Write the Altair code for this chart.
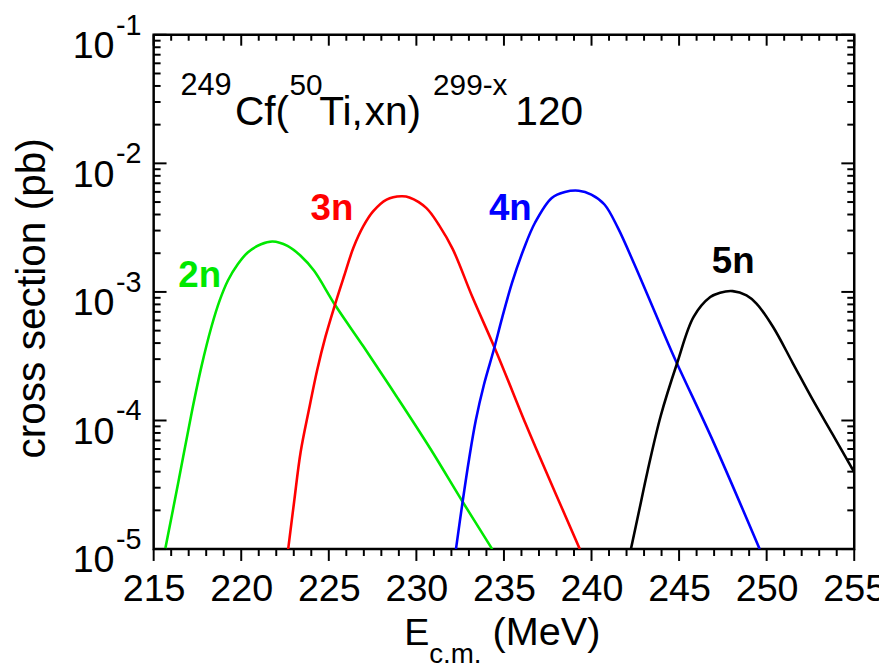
import altair as alt
import pandas as pd

FONT = "Liberation Sans"

# ---- data: energy (MeV) and log10(cross section / pb)
E_2n = [215.66, 216.41, 217.17, 217.73, 218.30, 218.77, 219.24, 219.81, 220.37, 221.13, 221.79,
        222.64, 223.39, 224.15, 225.37, 226.98, 228.86, 230.80, 232.64, 234.33]
L_2n = [-5.0, -4.478, -3.939, -3.579, -3.271, -3.066, -2.911, -2.783, -2.693, -2.629, -2.608,
        -2.642, -2.719, -2.834, -3.104, -3.425, -3.811, -4.22, -4.632, -5.0]

E_3n = [222.68, 223.02, 223.39, 223.87, 224.34, 224.81, 225.37, 225.85, 226.41, 226.98, 227.54,
        228.30, 229.14, 229.60, 230.56, 231.31, 232.07, 233.20, 234.52, 236.22, 236.78, 239.33]
L_3n = [-5.0, -4.632, -4.247, -3.913, -3.605, -3.348, -3.091, -2.886, -2.655, -2.487, -2.372,
        -2.282, -2.256, -2.265, -2.346, -2.484, -2.665, -3.04, -3.451, -4.02, -4.20, -5.0]

E_4n = [232.26, 232.64, 233.01, 233.39, 233.86, 234.42, 234.90, 235.46, 236.12, 236.78, 237.73,
        238.48, 239.27, 239.99, 240.74, 241.50, 242.44, 243.57, 244.70, 246.97, 249.60]
L_4n = [-5.0, -4.632, -4.299, -4.00, -3.72, -3.45, -3.20, -2.93, -2.67, -2.46, -2.269,
        -2.223, -2.213, -2.243, -2.32, -2.50, -2.783, -3.143, -3.502, -4.17, -5.0]

E_5n = [242.25, 242.72, 243.19, 243.95, 244.89, 245.83, 246.78, 247.34, 248.06, 248.85, 249.42,
        250.36, 251.49, 252.62, 253.76, 254.89, 255.0]
L_5n = [-5.0, -4.70, -4.40, -3.965, -3.553, -3.194, -3.04, -3.006, -2.994, -3.027, -3.091,
        -3.271, -3.553, -3.836, -4.106, -4.376, -4.40]

channels = ["2n", "3n", "4n", "5n"]
colors = ["#00e800", "#ff0000", "#0000ff", "#000000"]

# curve labels (position of label start, log10 sigma of baseline)
label_E = [216.41, 223.96, 234.14, 246.87]
label_L = [-2.965, -2.444, -2.444, -2.855]

x_major = [215, 220, 225, 230, 235, 240, 245, 250, 255]
x_minor = [v for v in range(216, 255) if v % 5 != 0]
y_exp = [-1, -2, -3, -4, -5]
y_minor = [m * 10.0 ** k for k in range(-5, -1) for m in range(2, 10)]

# ---- tables
rows = []
for ch, E, L in zip(channels, [E_2n, E_3n, E_4n, E_5n], [L_2n, L_3n, L_4n, L_5n]):
    for e, l in zip(E, L):
        rows.append({"E": e, "sigma": 10.0 ** l, "ch": ch})
curves = pd.DataFrame(rows)
labels = pd.DataFrame({"E": label_E, "sigma": [10.0 ** v for v in label_L], "ch": channels})
ymaj = pd.DataFrame({"sigma": [10.0 ** k for k in y_exp], "sup": [str(k) for k in y_exp]})
ymin = pd.DataFrame({"sigma": y_minor})
xmaj = pd.DataFrame({"E": x_major})
xmin = pd.DataFrame({"E": x_minor})

W, H = 707, 519

xs = alt.Scale(domain=[215, 255], nice=False, zero=False)
ys = alt.Scale(type="log", domain=[1e-5, 1e-1], nice=False)
cs = alt.Scale(domain=channels, range=colors)

xaxis = alt.Axis(values=x_major, ticks=False, domain=False, grid=False, title=None,
                 labelFontSize=38, labelFont=FONT, labelColor="black", labelPadding=22,
                 labelFlush=False, labelOverlap=False, labelBound=False)
yaxis = alt.Axis(values=[10.0 ** k for k in y_exp], labelExpr="'10'", ticks=False, domain=False,
                 grid=False, title=None, labelFontSize=38, labelFont=FONT, labelColor="black",
                 labelPadding=40, labelBaseline="alphabetic", labelOffset=23,
                 labelFlush=False, labelOverlap=False, labelBound=False)

X = alt.X("E:Q", scale=xs, axis=xaxis)
Y = alt.Y("sigma:Q", scale=ys, axis=yaxis)

lines = alt.Chart(curves).mark_line(strokeWidth=2.6, interpolate="catmull-rom", clip=True).encode(
    x=X, y=Y, color=alt.Color("ch:N", scale=cs, legend=None))

curve_labels = alt.Chart(labels).mark_text(
    align="left", baseline="alphabetic", fontSize=37, font=FONT, fontWeight="bold").encode(
    x=X, y=Y, text="ch:N", color=alt.Color("ch:N", scale=cs, legend=None))

def xtick(df, y1, y2):
    return alt.Chart(df).mark_rule(color="black", strokeWidth=2).encode(
        x=X, y=alt.value(y1), y2=alt.value(y2))

def ytick(df, x1, x2):
    return alt.Chart(df).mark_rule(color="black", strokeWidth=2).encode(
        y=Y, x=alt.value(x1), x2=alt.value(x2))

ticks = [
    xtick(xmaj, H, H + 12), xtick(xmin, H, H + 7),
    xtick(xmaj, 0, 11), xtick(xmin, 0, 6),
    ytick(ymaj, 0, 13), ytick(ymin, 0, 7),
    ytick(ymaj, W, W - 13), ytick(ymin, W, W - 7),
]

sups = alt.Chart(ymaj).mark_text(align="left", baseline="alphabetic", fontSize=29,
                                 font=FONT, color="black").encode(
    y=Y, x=alt.value(-38), text="sup:N")

one = pd.DataFrame({"a": [0]})

def txt(s, x, y, size, angle=0, align="left"):
    kw = dict(align=align, baseline="alphabetic", fontSize=size, font=FONT, color="black")
    if angle:
        kw["angle"] = angle
    return alt.Chart(one).mark_text(**kw).encode(
        x=alt.value(x), y=alt.value(y), text=alt.value(s))

texts = [
    # reaction title
    txt("249", 27, 61, 31),
    txt("Cf(", 82, 91, 41),
    txt("50", 137, 61, 30),
    txt("Ti,", 167, 91, 41),
    txt("xn)", 213, 91, 41),
    txt("299-x", 282, 61, 30),
    txt("120", 365, 91, 41),
    # x-axis title
    txt("E", 253, 616, 38),
    txt("c.m.", 278, 634, 28),
    txt("(MeV)", 342, 616, 40),
    # y-axis title
    txt("cross section (pb)", -110, 266, 41, angle=270, align="center"),
]

chart = alt.layer(lines, *ticks, sups, curve_labels, *texts).properties(
    width=W, height=H,
    autosize=alt.AutoSizeParams(type="none"),
    padding={"left": 147, "top": 24, "right": 25, "bottom": 117},
    background="white",
).configure_view(stroke="black", strokeWidth=2.5)

chart.save("out.html", embed_options={"renderer": "svg", "actions": False})
